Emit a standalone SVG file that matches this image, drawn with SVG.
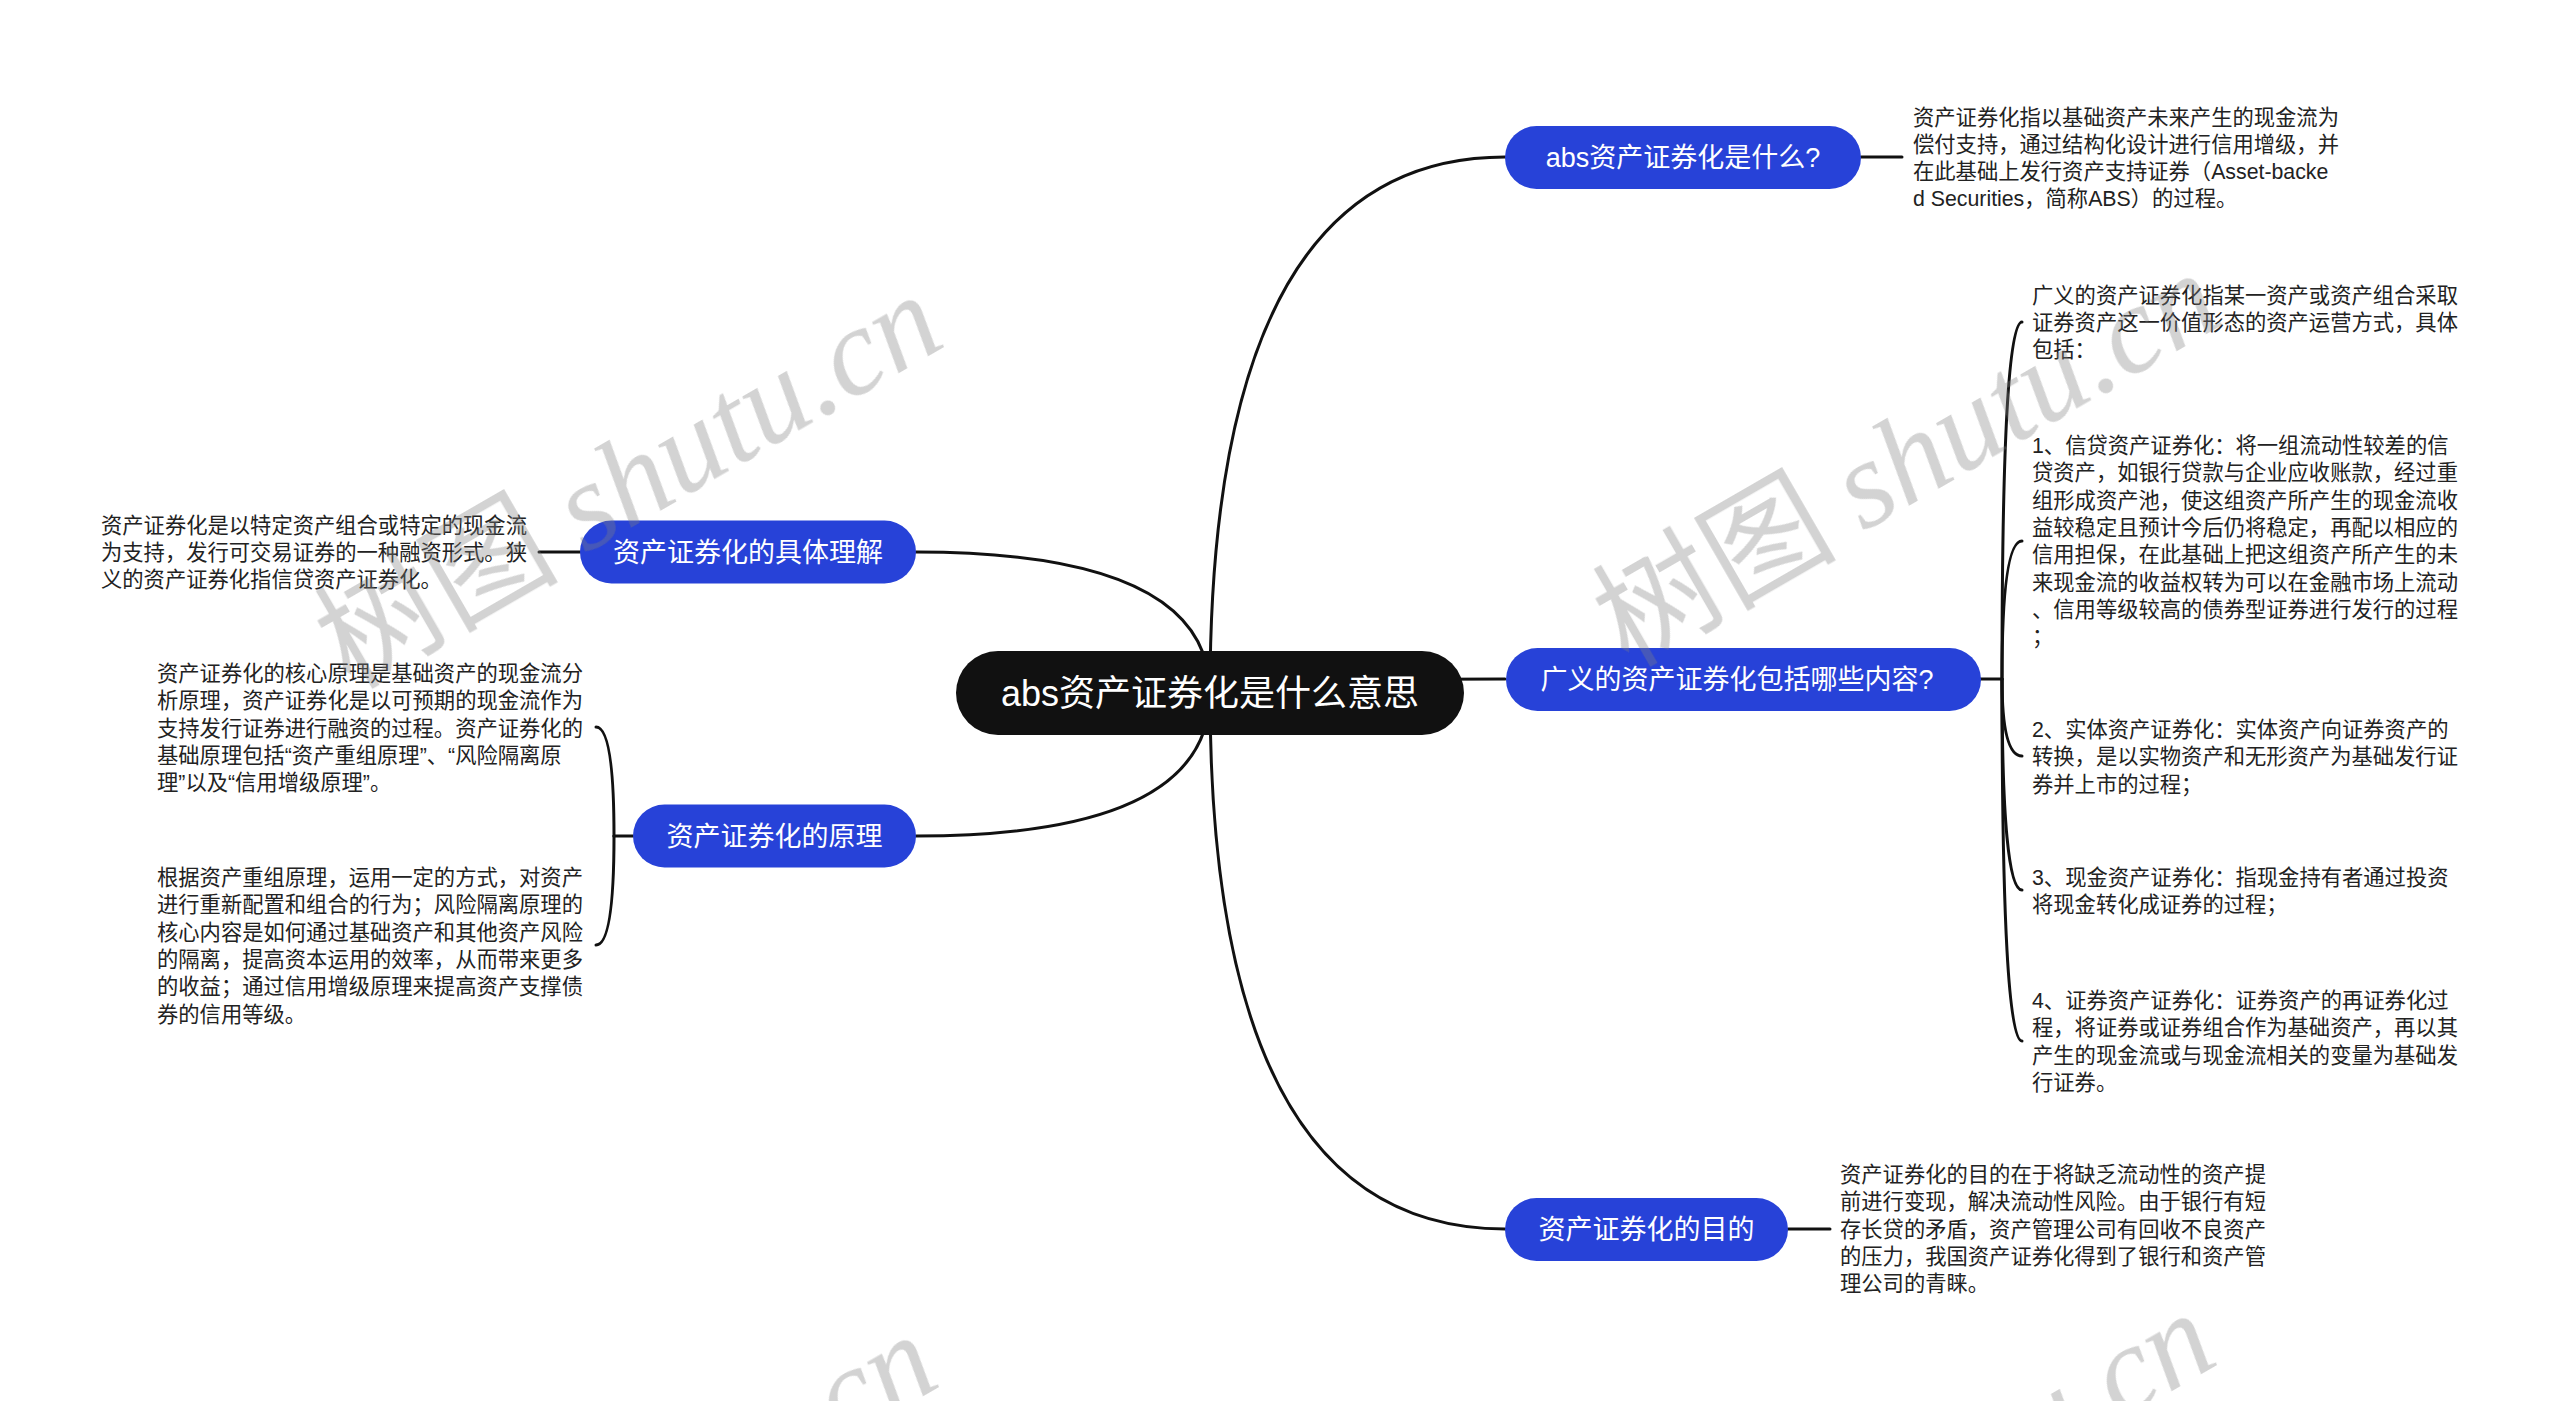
<svg xmlns="http://www.w3.org/2000/svg" width="2560" height="1401" viewBox="0 0 2560 1401">
<style>
.bg{fill:#ffffff}
.conn{fill:none;stroke:#111111;stroke-width:3;stroke-linecap:round}
.root{fill:#111111}
.node{fill:#2742d8}
.rt{font-family:"Liberation Sans","Noto Sans CJK SC",sans-serif;font-size:36px;fill:#ffffff;text-anchor:middle}
.nt{font-family:"Liberation Sans","Noto Sans CJK SC",sans-serif;font-size:27px;fill:#ffffff;text-anchor:middle}
.bt{font-family:"Liberation Sans","Noto Sans CJK SC",sans-serif;font-size:21.3px;fill:#222222}
.wm{fill:#808080;opacity:0.35}
.wmc{font-family:"Noto Sans CJK SC",sans-serif;font-size:122px}
.wml{font-family:"Liberation Serif",serif;font-style:italic;font-size:125px}
</style>
<rect class="bg" x="0" y="0" width="2560" height="1401"/>

<g id="connectors">
  <path class="conn" d="M1210,693 Q1210,157 1505,157"/>
  <path class="conn" d="M1210,693 Q1210,679 1505,679"/>
  <path class="conn" d="M1210,693 Q1210,1229 1505,1229"/>
  <path class="conn" d="M1210,693 Q1210,552 916,552"/>
  <path class="conn" d="M1210,693 Q1210,836 916,836"/>
  <path class="conn" d="M1861,157 H1902"/>
  <path class="conn" d="M1788,1229 H1830"/>
  <path class="conn" d="M580,552 H539"/>
  <path class="conn" d="M1980,679 H2002"/>
  <path class="conn" d="M2002,679 Q2002,322 2022,322"/>
  <path class="conn" d="M2002,679 Q2002,541 2022,541"/>
  <path class="conn" d="M2002,679 Q2002,756 2022,756"/>
  <path class="conn" d="M2002,679 Q2002,890 2022,890"/>
  <path class="conn" d="M2002,679 Q2002,1041 2022,1041"/>
  <path class="conn" d="M633,836 H614"/>
  <path class="conn" d="M614,836 Q614,727 596,727"/>
  <path class="conn" d="M614,836 Q614,945 596,945"/>
</g>

<g id="root">
  <rect class="root" x="956" y="651" width="508" height="84" rx="42"/>
  <text class="rt" x="1210" y="706">abs资产证券化是什么意思</text>
</g>

<g id="n1">
  <rect class="node" x="1505" y="126" width="356" height="63" rx="31.5"/>
  <text class="nt" x="1683" y="167">abs资产证券化是什么?</text>
</g>
<g id="n1-text">
  <text class="bt" x="1913"><tspan x="1913" y="124.5">资产证券化指以基础资产未来产生的现金流为</tspan><tspan x="1913" y="151.8">偿付支持，通过结构化设计进行信用增级，并</tspan><tspan x="1913" y="179.1">在此基础上发行资产支持证券（Asset-backe</tspan><tspan x="1913" y="206.4">d Securities，简称ABS）的过程。</tspan></text>
</g>

<g id="n2">
  <rect class="node" x="1506" y="648" width="475" height="63" rx="31.5"/>
  <text class="nt" x="1737" y="689">广义的资产证券化包括哪些内容?</text>
</g>
<g id="n2-c0">
  <text class="bt"><tspan x="2032" y="303">广义的资产证券化指某一资产或资产组合采取</tspan><tspan x="2032" y="330">证券资产这一价值形态的资产运营方式，具体</tspan><tspan x="2032" y="357">包括：</tspan></text>
</g>
<g id="n2-c1">
  <text class="bt"><tspan x="2032" y="453">1、信贷资产证券化：将一组流动性较差的信</tspan><tspan x="2032" y="480.3">贷资产，如银行贷款与企业应收账款，经过重</tspan><tspan x="2032" y="507.6">组形成资产池，使这组资产所产生的现金流收</tspan><tspan x="2032" y="534.9">益较稳定且预计今后仍将稳定，再配以相应的</tspan><tspan x="2032" y="562.2">信用担保，在此基础上把这组资产所产生的未</tspan><tspan x="2032" y="589.5">来现金流的收益权转为可以在金融市场上流动</tspan><tspan x="2032" y="616.8">、信用等级较高的债券型证券进行发行的过程</tspan><tspan x="2032" y="644.1">；</tspan></text>
</g>
<g id="n2-c2">
  <text class="bt"><tspan x="2032" y="737">2、实体资产证券化：实体资产向证券资产的</tspan><tspan x="2032" y="764.3">转换，是以实物资产和无形资产为基础发行证</tspan><tspan x="2032" y="791.6">券并上市的过程；</tspan></text>
</g>
<g id="n2-c3">
  <text class="bt"><tspan x="2032" y="885">3、现金资产证券化：指现金持有者通过投资</tspan><tspan x="2032" y="912.3">将现金转化成证券的过程；</tspan></text>
</g>
<g id="n2-c4">
  <text class="bt"><tspan x="2032" y="1008">4、证券资产证券化：证券资产的再证券化过</tspan><tspan x="2032" y="1035.3">程，将证券或证券组合作为基础资产，再以其</tspan><tspan x="2032" y="1062.6">产生的现金流或与现金流相关的变量为基础发</tspan><tspan x="2032" y="1089.9">行证券。</tspan></text>
</g>

<g id="n3">
  <rect class="node" x="1505" y="1198" width="283" height="63" rx="31.5"/>
  <text class="nt" x="1646.5" y="1239">资产证券化的目的</text>
</g>
<g id="n3-text">
  <text class="bt"><tspan x="1840" y="1182">资产证券化的目的在于将缺乏流动性的资产提</tspan><tspan x="1840" y="1209.3">前进行变现，解决流动性风险。由于银行有短</tspan><tspan x="1840" y="1236.6">存长贷的矛盾，资产管理公司有回收不良资产</tspan><tspan x="1840" y="1263.9">的压力，我国资产证券化得到了银行和资产管</tspan><tspan x="1840" y="1291.2">理公司的青睐。</tspan></text>
</g>

<g id="l1">
  <rect class="node" x="580" y="520.5" width="336" height="63" rx="31.5"/>
  <text class="nt" x="748" y="562">资产证券化的具体理解</text>
</g>
<g id="l1-text">
  <text class="bt"><tspan x="101" y="532.5">资产证券化是以特定资产组合或特定的现金流</tspan><tspan x="101" y="559.8">为支持，发行可交易证券的一种融资形式。狭</tspan><tspan x="101" y="587.1">义的资产证券化指信贷资产证券化。</tspan></text>
</g>

<g id="l2">
  <rect class="node" x="633" y="804.5" width="283" height="63" rx="31.5"/>
  <text class="nt" x="774.5" y="846">资产证券化的原理</text>
</g>
<g id="l2-c0">
  <text class="bt"><tspan x="157" y="681">资产证券化的核心原理是基础资产的现金流分</tspan><tspan x="157" y="708.3">析原理，资产证券化是以可预期的现金流作为</tspan><tspan x="157" y="735.6">支持发行证券进行融资的过程。资产证券化的</tspan><tspan x="157" y="762.9">基础原理包括“资产重组原理”、“风险隔离原</tspan><tspan x="157" y="790.2">理”以及“信用增级原理”。</tspan></text>
</g>
<g id="l2-c1">
  <text class="bt"><tspan x="157" y="885">根据资产重组原理，运用一定的方式，对资产</tspan><tspan x="157" y="912.3">进行重新配置和组合的行为；风险隔离原理的</tspan><tspan x="157" y="939.6">核心内容是如何通过基础资产和其他资产风险</tspan><tspan x="157" y="966.9">的隔离，提高资本运用的效率，从而带来更多</tspan><tspan x="157" y="994.2">的收益；通过信用增级原理来提高资产支撑债</tspan><tspan x="157" y="1021.5">券的信用等级。</tspan></text>
</g>

<g id="watermarks" class="wm">
  <text transform="translate(350,690) rotate(-30)"><tspan class="wmc">树图 </tspan><tspan class="wml">shutu.cn</tspan></text>
  <text transform="translate(1628,668) rotate(-30)"><tspan class="wmc">树图 </tspan><tspan class="wml">shutu.cn</tspan></text>
  <text transform="translate(345,1730) rotate(-30)"><tspan class="wmc">树图 </tspan><tspan class="wml">shutu.cn</tspan></text>
  <text transform="translate(1623,1708) rotate(-30)"><tspan class="wmc">树图 </tspan><tspan class="wml">shutu.cn</tspan></text>
</g>
</svg>
